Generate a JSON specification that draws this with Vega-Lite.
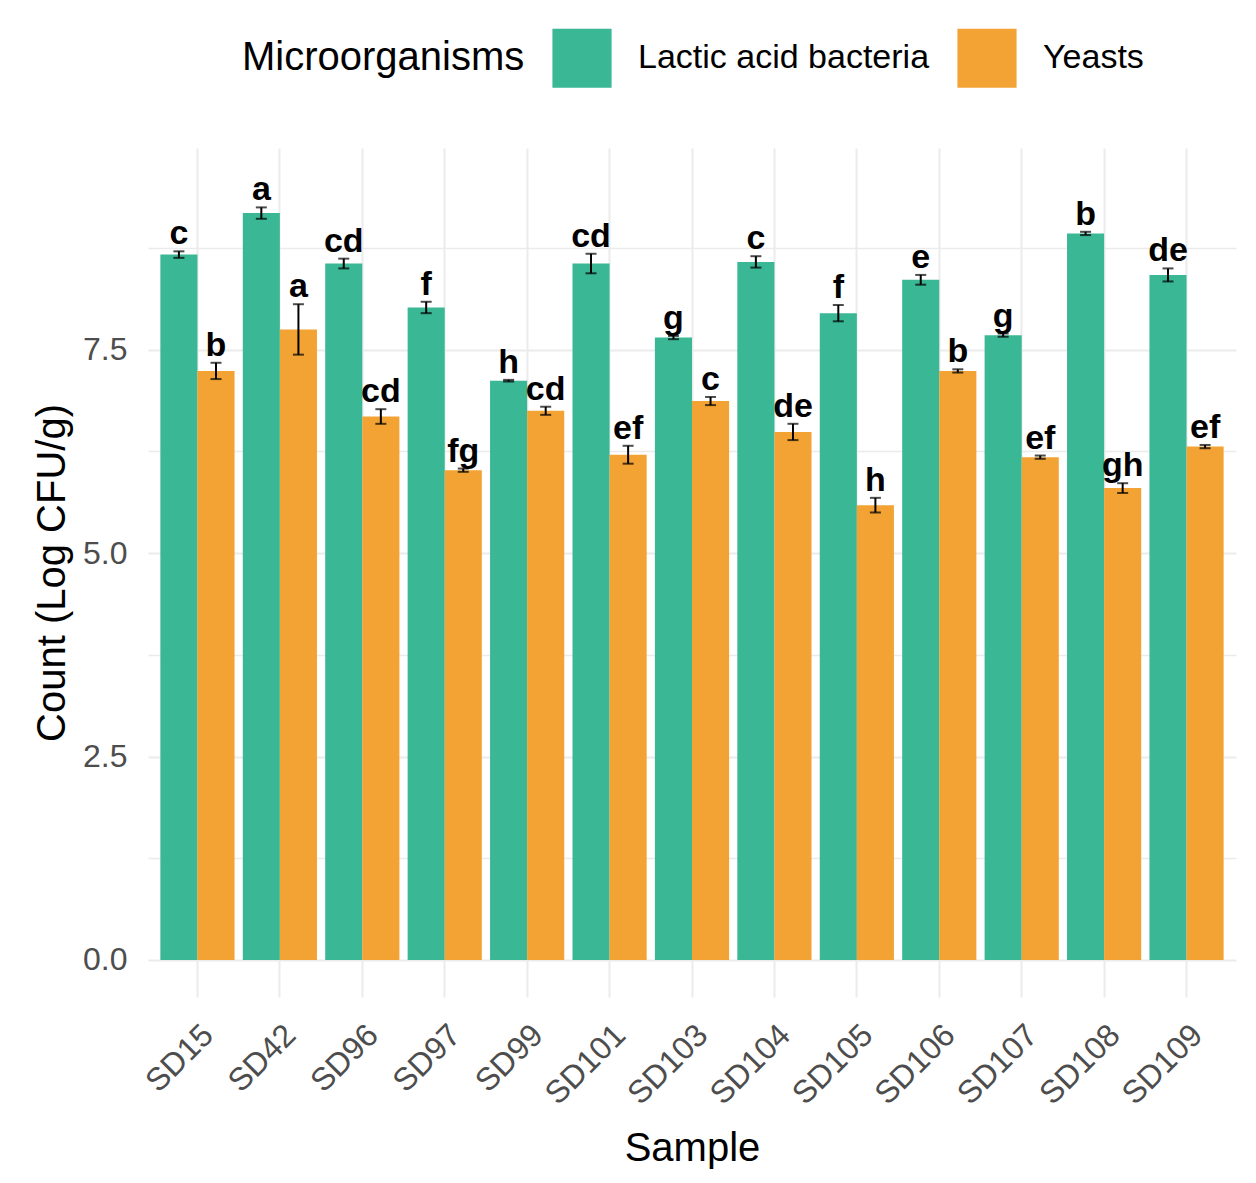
{
  "$schema": "https://vega.github.io/schema/vega-lite/v6.json",
  "width": 1088,
  "height": 849,
  "autosize": "none",
  "padding": {"left": 148, "top": 148, "right": 20, "bottom": 186},
  "background": "white",
  "data": {
    "values": [
      {"sample": "SD15", "group": "Lactic acid bacteria", "mean": 8.67, "lo": 8.63, "hi": 8.71, "letter": "c"},
      {"sample": "SD15", "group": "Yeasts", "mean": 7.24, "lo": 7.14, "hi": 7.34, "letter": "b"},
      {"sample": "SD42", "group": "Lactic acid bacteria", "mean": 9.18, "lo": 9.11, "hi": 9.25, "letter": "a"},
      {"sample": "SD42", "group": "Yeasts", "mean": 7.75, "lo": 7.44, "hi": 8.06, "letter": "a"},
      {"sample": "SD96", "group": "Lactic acid bacteria", "mean": 8.56, "lo": 8.5, "hi": 8.62, "letter": "cd"},
      {"sample": "SD96", "group": "Yeasts", "mean": 6.68, "lo": 6.59, "hi": 6.77, "letter": "cd"},
      {"sample": "SD97", "group": "Lactic acid bacteria", "mean": 8.02, "lo": 7.95, "hi": 8.09, "letter": "f"},
      {"sample": "SD97", "group": "Yeasts", "mean": 6.02, "lo": 6.0, "hi": 6.04, "letter": "fg"},
      {"sample": "SD99", "group": "Lactic acid bacteria", "mean": 7.12, "lo": 7.11, "hi": 7.13, "letter": "h"},
      {"sample": "SD99", "group": "Yeasts", "mean": 6.75, "lo": 6.7, "hi": 6.8, "letter": "cd"},
      {"sample": "SD101", "group": "Lactic acid bacteria", "mean": 8.56, "lo": 8.44, "hi": 8.68, "letter": "cd"},
      {"sample": "SD101", "group": "Yeasts", "mean": 6.21, "lo": 6.1, "hi": 6.32, "letter": "ef"},
      {"sample": "SD103", "group": "Lactic acid bacteria", "mean": 7.65, "lo": 7.63, "hi": 7.67, "letter": "g"},
      {"sample": "SD103", "group": "Yeasts", "mean": 6.87, "lo": 6.82, "hi": 6.92, "letter": "c"},
      {"sample": "SD104", "group": "Lactic acid bacteria", "mean": 8.58, "lo": 8.51, "hi": 8.65, "letter": "c"},
      {"sample": "SD104", "group": "Yeasts", "mean": 6.49, "lo": 6.39, "hi": 6.59, "letter": "de"},
      {"sample": "SD105", "group": "Lactic acid bacteria", "mean": 7.95, "lo": 7.85, "hi": 8.05, "letter": "f"},
      {"sample": "SD105", "group": "Yeasts", "mean": 5.59, "lo": 5.5, "hi": 5.68, "letter": "h"},
      {"sample": "SD106", "group": "Lactic acid bacteria", "mean": 8.36, "lo": 8.3, "hi": 8.42, "letter": "e"},
      {"sample": "SD106", "group": "Yeasts", "mean": 7.24, "lo": 7.22, "hi": 7.26, "letter": "b"},
      {"sample": "SD107", "group": "Lactic acid bacteria", "mean": 7.68, "lo": 7.66, "hi": 7.7, "letter": "g"},
      {"sample": "SD107", "group": "Yeasts", "mean": 6.18, "lo": 6.16, "hi": 6.2, "letter": "ef"},
      {"sample": "SD108", "group": "Lactic acid bacteria", "mean": 8.93, "lo": 8.91, "hi": 8.95, "letter": "b"},
      {"sample": "SD108", "group": "Yeasts", "mean": 5.8, "lo": 5.74, "hi": 5.86, "letter": "gh"},
      {"sample": "SD109", "group": "Lactic acid bacteria", "mean": 8.42, "lo": 8.34, "hi": 8.5, "letter": "de"},
      {"sample": "SD109", "group": "Yeasts", "mean": 6.31, "lo": 6.29, "hi": 6.33, "letter": "ef"}
    ]
  },
  "encoding": {
    "x": {
      "field": "sample",
      "type": "nominal",
      "sort": null,
      "title": "Sample",
      "scale": {"paddingInner": 0.1, "paddingOuter": 0.15},
      "axis": {
        "labelAngle": -45,
        "labelAlign": "right",
        "labelBaseline": "top",
        "labelPadding": 22,
        "bandPosition": 0.5,
        "titlePadding": 18
      }
    },
    "xOffset": {
      "field": "group",
      "type": "nominal",
      "scale": {"paddingInner": 0, "paddingOuter": 0}
    }
  },
  "layer": [
    {
      "mark": {"type": "bar"},
      "encoding": {
        "y": {
          "field": "mean",
          "type": "quantitative",
          "title": "Count (Log CFU/g)",
          "scale": {"domain": [-0.455, 9.98], "nice": false, "zero": false},
          "axis": {
            "values": [0, 1.25, 2.5, 3.75, 5, 6.25, 7.5, 8.75],
            "labelExpr": "datum.value % 2.5 === 0 ? format(datum.value, '.1f') : ''",
            "labelPadding": 21,
            "titlePadding": 10,
            "gridWidth": {"condition": {"test": "datum.value % 2.5 !== 0", "value": 1.3}, "value": 2}
          }
        },
        "color": {
          "field": "group",
          "type": "nominal",
          "scale": {
            "domain": ["Lactic acid bacteria", "Yeasts"],
            "range": ["#3AB795", "#F2A334"]
          },
          "legend": {
            "title": "Microorganisms",
            "orient": "none",
            "legendX": 94,
            "legendY": -120,
            "direction": "horizontal",
            "titleOrient": "left",
            "titleFontSize": 40,
            "titleFontWeight": "normal",
            "titleColor": "black",
            "titlePadding": 27,
            "titleBaseline": "middle",
            "titleLimit": 1000,
            "labelFontSize": 34,
            "labelColor": "black",
            "labelLimit": 1000,
            "labelOffset": 26,
            "columnPadding": 27,
            "symbolType": "square",
            "symbolSize": 3500,
            "symbolStrokeWidth": 0,
            "symbolOpacity": 1
          }
        }
      }
    },
    {
      "mark": {"type": "rule", "color": "black", "strokeWidth": 2},
      "encoding": {
        "y": {"field": "lo", "type": "quantitative"},
        "y2": {"field": "hi"}
      }
    },
    {
      "mark": {"type": "tick", "color": "black", "size": 11, "thickness": 2},
      "encoding": {
        "y": {"field": "lo", "type": "quantitative"}
      }
    },
    {
      "mark": {"type": "tick", "color": "black", "size": 11, "thickness": 2},
      "encoding": {
        "y": {"field": "hi", "type": "quantitative"}
      }
    },
    {
      "mark": {
        "type": "text",
        "baseline": "alphabetic",
        "align": "center",
        "dy": -7,
        "fontSize": 34,
        "fontWeight": "bold",
        "color": "black"
      },
      "encoding": {
        "y": {"field": "hi", "type": "quantitative"},
        "text": {"field": "letter"}
      }
    }
  ],
  "config": {
    "font": "Liberation Sans",
    "view": {"stroke": null},
    "axis": {
      "domain": false,
      "ticks": false,
      "grid": true,
      "gridColor": "#EBEBEB",
      "gridWidth": 2,
      "labelFontSize": 32,
      "labelColor": "#4D4D4D",
      "labelFont": "Liberation Sans",
      "titleFontSize": 40,
      "titleFontWeight": "normal",
      "titleColor": "black",
      "titleFont": "Liberation Sans"
    },
    "legend": {
      "labelFont": "Liberation Sans",
      "titleFont": "Liberation Sans"
    }
  }
}
